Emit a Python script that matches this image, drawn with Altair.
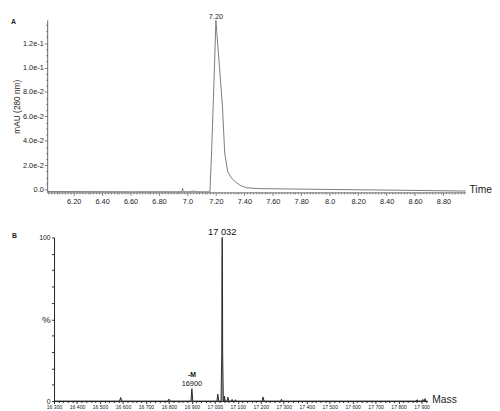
import altair as alt
import pandas as pd

FONT = "Liberation Sans"

# ---------------- Panel A: chromatogram ----------------
time_min = [6.014, 6.30, 6.60, 6.90, 6.962, 6.966, 6.970, 7.02, 7.04, 7.06, 7.12,
            7.158, 7.17, 7.18, 7.19, 7.20, 7.21, 7.225, 7.246, 7.262, 7.283, 7.31,
            7.331, 7.37, 7.414, 7.50, 7.70, 8.00, 8.40, 8.955]
absorb = [-0.0016, -0.0017, -0.0018, -0.0018, -0.0018, 0.0010, -0.0018, -0.0018,
          -0.0012, -0.0018, -0.0018, -0.0019, 0.0320, 0.0660, 0.1000, 0.1387,
          0.1234, 0.1008, 0.0682, 0.0299, 0.0146, 0.0095, 0.0069, 0.0035, 0.0015,
          0.0008, 0.0005, 0.0001, -0.0004, -0.0012]
peakA_time = [7.20]
peakA_value = [0.1387]
peakA_label = ["7.20"]

xA_ticks = [round(6.02 + 0.02 * i, 2) for i in range(147)]
yA_ticks = [round(0.005 * i, 3) for i in range(28)]

# ---------------- Panel B: deconvoluted mass spectrum ----------------
mass = [16300, 16585, 16590, 16595, 16795, 16800, 16805, 16896, 16900, 16904,
        17009, 17013, 17017, 17027, 17030, 17031, 17032, 17033, 17034, 17037,
        17040, 17042, 17045, 17053, 17057, 17061, 17072, 17075, 17078, 17087,
        17090, 17093, 17206, 17210, 17214, 17286, 17290, 17294, 17876, 17880,
        17884, 17901, 17905, 17909, 17912, 17915, 17918, 17925]
intensity = [0, 0, 2.2, 0, 0, 1.2, 0, 0, 7.6, 0,
             0, 4.2, 0, 0, 30, 88, 100, 88, 30, 0,
             0, 3.0, 0, 0, 2.4, 0, 0, 1.0, 0, 0,
             0.8, 0, 0, 2.5, 0, 0, 1.1, 0, 0, 0.8,
             0, 0, 1.0, 0, 0, 1.5, 0, 0]
peakB_mass = [17032, 16900]
peakB_int = [100, 7.6]
peakB_label = ["17 032", "16900"]
peakB_tag = ["", "-M"]

xB_ticks = list(range(16300, 17921, 20))
yB_ticks = list(range(0, 101, 10))

W_A, H_A = 427, 176
SHIFT_B = 7                 # panel B's axes start a little right of panel A's
W_B, H_B = 381 + SHIFT_B, 167

dfA = pd.DataFrame({"t": time_min, "v": absorb})
dfA_lab = pd.DataFrame({"t": peakA_time, "v": peakA_value, "lab": peakA_label})
dfB = pd.DataFrame({"m": mass, "i": intensity})
dfB_lab = pd.DataFrame({"m": peakB_mass, "i": peakB_int, "lab": peakB_label, "tag": peakB_tag})

majA_x = "abs(datum.value*5 - round(datum.value*5)) < 0.001"
majA_y = "abs(datum.value*50 - round(datum.value*50)) < 0.001"

xA = alt.X("t:Q", scale=alt.Scale(domain=[6.014, 8.955], nice=False, zero=False),
           axis=alt.Axis(values=xA_ticks, tickCount=len(xA_ticks) + 10, title=None, grid=False,
                         labelExpr=f"{majA_x} ? (abs(datum.value - round(datum.value)) < 0.001 ? format(datum.value, '.1f') : format(datum.value, '.2f')) : ''",
                         tickSize={"condition": {"test": majA_x, "value": 3}, "value": 1.5},
                         labelFontSize=7.5, labelColor="#222", labelPadding=2,
                         domainColor="#666", tickColor="#777",
                         labelOverlap=False, labelFlush=False))
yA = alt.Y("v:Q", scale=alt.Scale(domain=[-0.0023, 0.139], nice=False, zero=False),
           axis=alt.Axis(values=yA_ticks, tickCount=len(yA_ticks) + 10, title="mAU (280 nm)", grid=False,
                         labelExpr=f"{majA_y} ? (abs(datum.value) < 1e-9 ? '0.0' : format(datum.value, '.1e')) : ''",
                         tickSize={"condition": {"test": majA_y, "value": 3}, "value": 1.5},
                         labelFontSize=7.5, labelColor="#222", labelPadding=1,
                         domainColor="#666", tickColor="#777",
                         titleFontSize=8.5, titleFontWeight="normal", titleColor="#222",
                         titlePadding=1, labelOverlap=False, labelFlush=False))

lineA = alt.Chart(dfA).mark_line(color="#7a7a7a", strokeWidth=1).encode(x=xA, y=yA)
labA = alt.Chart(dfA_lab).mark_text(fontSize=7.5, dy=-1.5, baseline="alphabetic", color="#222").encode(
    x="t:Q", y="v:Q", text="lab:N")
tagA = alt.Chart(pd.DataFrame({"s": ["A"]})).mark_text(
    fontSize=7, fontWeight="bold", align="left", baseline="middle", color="#222").encode(
    x=alt.value(-37), y=alt.value(2), text="s:N")
timeA = alt.Chart(pd.DataFrame({"s": ["Time"]})).mark_text(
    fontSize=10.5, align="left", baseline="middle", color="#222").encode(
    x=alt.value(W_A + 4), y=alt.value(H_A - 2), text="s:N")

chartA = alt.layer(lineA, labA, tagA, timeA).properties(width=W_A, height=H_A)

# Panel B
majB_x = "datum.value % 100 == 0"
xB = alt.X("m:Q", scale=alt.Scale(domain=[16300, 17925], range=[SHIFT_B, W_B], nice=False, zero=False),
           axis=alt.Axis(values=xB_ticks, tickCount=len(xB_ticks) + 10, title=None, grid=False,
                         labelExpr=f"{majB_x} ? replace(format(datum.value, ','), ',', ' ') : ''",
                         tickSize={"condition": {"test": majB_x, "value": 2.5}, "value": 1.5},
                         labelFontSize=5.2, labelColor="#222", labelPadding=1,
                         domainColor="#222", tickColor="#333",
                         labelOverlap=False, labelFlush=False))
yB = alt.Y("i:Q", scale=alt.Scale(domain=[0, 100], nice=False),
           axis=alt.Axis(values=yB_ticks, tickCount=len(yB_ticks) + 10, title=None, grid=False,
                         offset=-SHIFT_B,
                         labelExpr="datum.value == 0 ? '0' : datum.value == 100 ? '100' : datum.value == 50 ? '%' : ''",
                         labelFontSize={"condition": {"test": "datum.value == 50", "value": 10}, "value": 7},
                         tickSize=2.5, labelColor="#222", labelPadding=1.5,
                         domainColor="#222", tickColor="#222",
                         labelOverlap=False, labelFlush=False))

areaB = alt.Chart(dfB).mark_area(color="#9a9a9a", opacity=0.9).encode(x=xB, y=yB)
lineB = alt.Chart(dfB).mark_line(color="#1a1a1a", strokeWidth=0.9).encode(x=xB, y=yB)
labB = alt.Chart(dfB_lab).mark_text(dy=-2.5, baseline="alphabetic", color="#111").encode(
    x="m:Q", y="i:Q", text="lab:N",
    size=alt.condition("datum.lab == '16900'", alt.value(7.5), alt.value(9.5)))
tagB = alt.Chart(dfB_lab).mark_text(fontSize=7, fontWeight="bold", dy=-12, baseline="alphabetic", color="#111").encode(
    x="m:Q", y="i:Q", text="tag:N")
panelB = alt.Chart(pd.DataFrame({"s": ["B"]})).mark_text(
    fontSize=7, fontWeight="bold", align="left", baseline="middle", color="#222").encode(
    x=alt.value(-36), y=alt.value(-1), text="s:N")
massB = alt.Chart(pd.DataFrame({"s": ["Mass"]})).mark_text(
    fontSize=10.5, align="left", baseline="middle", color="#222").encode(
    x=alt.value(W_B + 5), y=alt.value(H_B - 1), text="s:N")

chartB = alt.layer(areaB, lineB, labB, tagB, panelB, massB).properties(width=W_B, height=H_B)

chart = alt.vconcat(chartA, chartB, spacing=15).properties(
    padding={"left": 3, "top": 0, "right": 0, "bottom": 0}
).configure(font=FONT).configure_view(stroke=None)

chart.save("out.html", embed_options={"renderer": "svg", "actions": False})
